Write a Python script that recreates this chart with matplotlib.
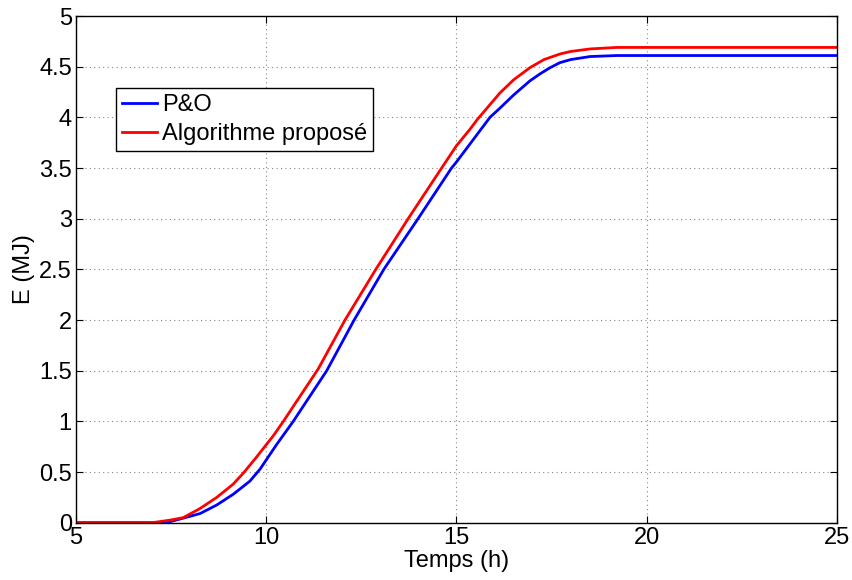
import matplotlib
matplotlib.use('Agg')
import matplotlib.pyplot as plt
from matplotlib.ticker import MultipleLocator, FormatStrFormatter

# values (time in h, energy in MJ)
t_po = [5, 7.3, 7.47, 7.82, 8.26, 8.70, 9.13, 9.57, 9.84, 10.27, 10.71, 11.59,
        12.31, 13.09, 13.99, 14.87, 15.0, 15.62, 15.88, 16.14, 16.5, 16.93,
        17.2, 17.46, 17.72, 18.0, 18.51, 19.21, 25]
e_po = [0, 0, 0.01, 0.045, 0.09, 0.175, 0.28, 0.41, 0.53, 0.77, 1.0, 1.5,
        2.0, 2.5, 3.0, 3.5, 3.56, 3.87, 4.0, 4.09, 4.22, 4.36,
        4.43, 4.49, 4.54, 4.57, 4.60, 4.61, 4.61]

t_prop = [5, 7.0, 7.47, 7.82, 8.26, 8.70, 9.13, 9.40, 9.75, 10.19, 10.45, 11.37,
          12.07, 12.88, 13.73, 14.61, 15.0, 15.35, 15.55, 16.14, 16.5, 16.93,
          17.3, 17.72, 18.0, 18.51, 19.21, 25]
e_prop = [0, 0, 0.025, 0.05, 0.14, 0.25, 0.38, 0.49, 0.65, 0.86, 1.0, 1.52,
          2.0, 2.5, 3.0, 3.5, 3.72, 3.88, 3.98, 4.24, 4.37, 4.49,
          4.57, 4.625, 4.65, 4.675, 4.69, 4.69]

labels = ['P&O', 'Algorithme proposé']

plt.rcParams['font.family'] = ['Liberation Sans', 'DejaVu Sans']
fs = 17

fig = plt.figure(figsize=(8.53, 5.80), dpi=100)
ax = fig.add_axes([0.0891, 0.0988, 0.8921, 0.8736])

ax.plot(t_po, e_po, color='#0000ff', lw=2, label=labels[0])
ax.plot(t_prop, e_prop, color='#ff0000', lw=2, label=labels[1])

ax.set_xlim(5, 25)
ax.set_ylim(0, 5)
ax.xaxis.set_major_locator(MultipleLocator(5))
ax.yaxis.set_major_locator(MultipleLocator(0.5))
ax.yaxis.set_major_formatter(FormatStrFormatter('%g'))
ax.tick_params(direction='in', length=5, width=0.8, top=True, right=True,
               labelsize=fs, pad=3)
ax.grid(True, linestyle=(0, (1, 3)), color='#888888', linewidth=0.8)
for s in ax.spines.values():
    s.set_linewidth(1.0)

ax.set_xlabel('Temps (h)', fontsize=fs, labelpad=1)
ax.set_ylabel('E (MJ)', fontsize=fs, labelpad=3)

leg = ax.legend(loc='upper left', bbox_to_anchor=(0.0526, 0.857), borderaxespad=0,
                fontsize=fs, fancybox=False, edgecolor='black', framealpha=1,
                handlelength=1.5, handletextpad=0.2, borderpad=0.25, labelspacing=0.3)
leg.get_frame().set_linewidth(1.0)

fig.savefig('out.png', dpi=100)
